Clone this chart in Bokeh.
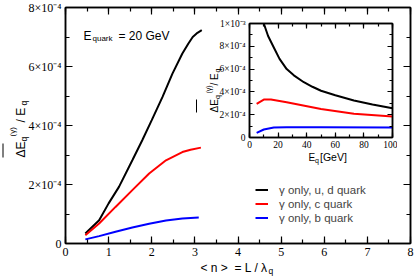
import math
from bokeh.plotting import figure
from bokeh.layouts import column
from bokeh.models import FixedTicker, LinearAxis, Label, Range1d, Arrow
from bokeh.embed import file_html
from bokeh.resources import INLINE

# ---------------- data ----------------
# main panel: photon energy loss fraction vs <n> = L / lambda_q, E_quark = 20 GeV
ud_n  = [0.46, 0.78, 1.00, 1.24, 1.55, 1.78, 2.00, 2.25, 2.48, 2.71, 2.85, 2.95, 3.06, 3.16]
ud_dE = [0.34e-4, 0.79e-4, 1.36e-4, 1.92e-4, 2.82e-4, 3.50e-4, 4.18e-4, 4.97e-4,
         5.76e-4, 6.44e-4, 6.78e-4, 7.00e-4, 7.14e-4, 7.23e-4]
c_n   = [0.46, 0.78, 1.16, 1.55, 1.94, 2.33, 2.71, 2.90, 3.14]
c_dE  = [0.28e-4, 0.68e-4, 1.24e-4, 1.81e-4, 2.37e-4, 2.82e-4, 3.10e-4, 3.18e-4, 3.25e-4]
b_n   = [0.46, 0.78, 1.16, 1.55, 1.94, 2.33, 2.71, 3.09]
b_dE  = [0.14e-4, 0.25e-4, 0.40e-4, 0.54e-4, 0.67e-4, 0.78e-4, 0.85e-4, 0.88e-4]

# inset: energy loss fraction vs E_q [GeV]
ud_E   = [8, 10, 13, 17, 21, 26, 31, 38, 44, 50, 60, 73, 86, 100]
ud_ins = [1.15e-3, 1.00e-3, 0.89e-3, 0.79e-3, 0.69e-3, 0.60e-3, 0.545e-3, 0.485e-3,
          0.445e-3, 0.41e-3, 0.37e-3, 0.325e-3, 0.29e-3, 0.257e-3]
c_E    = [5, 10, 15, 26, 50, 73, 100]
c_ins  = [0.295e-3, 0.333e-3, 0.333e-3, 0.31e-3, 0.25e-3, 0.208e-3, 0.184e-3]
b_E    = [5, 10, 17, 26, 50, 100]
b_ins  = [0.041e-3, 0.07e-3, 0.088e-3, 0.09e-3, 0.09e-3, 0.088e-3]

series_names = ["γ only, u, d quark", "γ only, c quark", "γ only, b quark"]

main_xticks = [0, 1, 2, 3, 4, 5, 6, 7, 8]
main_xminor = [0.5 * i for i in range(17)]
main_yticks = [0, 2e-4, 4e-4, 6e-4, 8e-4]
main_ylabels = ["0", "2×10⁻⁴", "4×10⁻⁴", "6×10⁻⁴", "8×10⁻⁴"]
main_yminor = [i * 1e-4 for i in range(9)]

ins_xticks = [0, 20, 40, 60, 80, 100]
ins_xminor = [10 * i for i in range(11)]
ins_yticks = [0, 2e-4, 4e-4, 6e-4, 8e-4, 1e-3]
ins_ylabels = ["0", "2×10⁻⁴", "4×10⁻⁴", "6×10⁻⁴", "8×10⁻⁴", "1×10⁻³"]
ins_yminor = [i * 1e-4 for i in range(11)]

SANS = "Liberation Sans"
SERIF = "Liberation Serif"
NBSP = "\u00a0"

# all figures of the column share left/right border sizes (bokeh aligns them)
BL, BR = 65, 5

# ---------------- main figure ----------------
W, H = 415, 277
FW = W - BL - BR   # frame width shared by the column
p = figure(width=W, height=H, x_range=Range1d(0, 8), y_range=Range1d(0, 8e-4),
           output_backend="svg", toolbar_location=None,
           min_border_left=BL, min_border_right=BR, min_border_top=7, min_border_bottom=34)
p.xgrid.visible = False
p.ygrid.visible = False
p.outline_line_color = "black"
p.outline_line_width = 1.5
p.background_fill_color = "white"
p.border_fill_color = "white"


def style_axis(ax, ticks, minor, labels=None, show_labels=True, size="12px", tick_in=7, minor_in=4):
    ax.ticker = FixedTicker(ticks=ticks, minor_ticks=minor)
    ax.axis_line_color = "black"
    ax.axis_line_width = 1.5
    ax.major_tick_in = tick_in
    ax.major_tick_out = 0
    ax.minor_tick_in = minor_in
    ax.minor_tick_out = 0
    ax.major_tick_line_width = 1.2
    ax.minor_tick_line_width = 1.2
    ax.major_tick_line_color = "black"
    ax.minor_tick_line_color = "black"
    if show_labels:
        ax.major_label_text_font = SERIF
        ax.major_label_text_font_size = size
        ax.major_label_text_color = "black"
        ax.major_label_standoff = 4
        if labels is not None:
            ax.major_label_overrides = {t: l for t, l in zip(ticks, labels)}
    else:
        # mirror axis: ticks only, no labels drawn
        ax.major_label_overrides = {t: "" for t in ticks}
        ax.major_label_text_color = None
        ax.major_label_text_alpha = 0
        ax.major_label_text_font_size = "1px"
        ax.major_label_standoff = 0


style_axis(p.xaxis[0], main_xticks, main_xminor)
style_axis(p.yaxis[0], main_yticks, main_yminor, main_ylabels)
ra = LinearAxis()
style_axis(ra, main_yticks, main_yminor, show_labels=False)
p.add_layout(ra, "right")
ta = LinearAxis()
style_axis(ta, main_xticks, main_xminor, show_labels=False)
p.add_layout(ta, "above")

p.line(ud_n, ud_dE, line_color="black", line_width=2, legend_label=series_names[0])
p.line(c_n, c_dE, line_color="red", line_width=2, legend_label=series_names[1])
p.line(b_n, b_dE, line_color="blue", line_width=2, legend_label=series_names[2])

lg = p.legend[0]
lg.location = (190, 19)
lg.border_line_color = None
lg.background_fill_alpha = 0
lg.padding = 0
lg.margin = 0
lg.spacing = 1
lg.glyph_width = 13
lg.glyph_height = 13
lg.label_height = 13
lg.label_standoff = 11
lg.label_text_font = SANS
lg.label_text_font_size = "11.5px"

# ---------------- inset figure ----------------
IFL, IFR, IFT, IFB = 249, 392, 23, 137          # inset frame on the page
IX = IFL - BL                                   # inset canvas left
IY = 15                                         # inset canvas top
IW = IFR + BR - IX
IH = 150
q = figure(width=IW, height=IH, x_range=Range1d(0, 100), y_range=Range1d(0, 1e-3),
           output_backend="svg", toolbar_location=None,
           min_border_left=BL, min_border_right=BR,
           min_border_top=IFT - IY, min_border_bottom=IY + IH - IFB)
q.xgrid.visible = False
q.ygrid.visible = False
q.outline_line_color = "black"
q.outline_line_width = 1.5
q.background_fill_color = "white"
q.border_fill_color = None
q.margin = (IY - H, 0, 0, IX)

style_axis(q.xaxis[0], ins_xticks, ins_xminor, size="9.5px", tick_in=5, minor_in=3)
style_axis(q.yaxis[0], ins_yticks, ins_yminor, ins_ylabels, size="9.5px", tick_in=5, minor_in=3)
q.xaxis[0].major_label_standoff = 3
q.yaxis[0].major_label_standoff = 4
ra2 = LinearAxis()
style_axis(ra2, ins_yticks, ins_yminor, show_labels=False, tick_in=5, minor_in=3)
q.add_layout(ra2, "right")
ta2 = LinearAxis()
style_axis(ta2, ins_xticks, ins_xminor, show_labels=False, tick_in=5, minor_in=3)
q.add_layout(ta2, "above")

q.line(ud_E, ud_ins, line_color="black", line_width=2)
q.line(c_E, c_ins, line_color="red", line_width=2)
q.line(b_E, b_ins, line_color="blue", line_width=2)


# ---------------- text layers (page-pixel coordinates, y downwards) ----------------
def text_layer(left, top_margin):
    # frame spans page x left .. left+FW and page y 0 .. H
    f = figure(width=W, height=H, x_range=Range1d(left, left + FW), y_range=Range1d(H, 0),
               x_axis_type=None, y_axis_type=None, title=None,
               output_backend="svg", toolbar_location=None,
               min_border_left=BL, min_border_right=BR, min_border_top=0, min_border_bottom=0)
    f.outline_line_color = None
    f.background_fill_color = None
    f.border_fill_color = None
    f.margin = (top_margin, 0, 0, left - BL)
    return f


tA = text_layer(0, -(IY + IH))   # page x 0..345
tB = text_layer(BL, -H)          # page x 65..410

R = math.pi / 2


def lab(f, px, py, text, size, angle=0.0, font=SANS):
    f.add_layout(Label(x=px, y=py, text=text, text_font=font, text_font_size=size,
                       text_align="left", text_baseline="alphabetic",
                       angle=angle, text_color="black"))


def bar(f, px, py0, py1):
    f.add_layout(Arrow(end=None, x_start=px, y_start=py0, x_end=px, y_end=py1,
                       line_color="black", line_width=1))


# main y axis label (rotated)
lab(tA, 20, 157, "ΔE", "12px", R)
lab(tA, 23, 141, "q", "8.5px", R)
lab(tA, 12, 136, "(γ)", "8px", R)
lab(tA, 20, 122, "/ E", "12px", R)
lab(tA, 23, 105, "q", "8.5px", R)
bar(tA, 2.5, 157, 143)
# main x axis label
lab(tA, 200, 267, "< n >" + NBSP + " = L / λ", "12px")
lab(tA, 268, 270, "q", "8.5px")
# E_quark annotation
lab(tA, 83, 35, "E", "12px")
lab(tA, 92, 38, "quark", "8px")
lab(tA, 118, 35, "= 20 GeV", "12px")
# inset y axis label
lab(tA, 214, 112, "ΔE", "10px", R)
lab(tA, 216.5, 98.5, "q", "7px", R)
lab(tA, 207.5, 93, "(γ)", "7px", R)
lab(tA, 214, 85, "/ E", "10px", R)
lab(tA, 216.5, 72, "q", "7px", R)
bar(tA, 196, 112, 99)
# inset x axis label
lab(tB, 308, 156.5, "E", "10px")
lab(tB, 314.5, 159.5, "q", "7px")
lab(tB, 319.5, 156.5, "[GeV]", "10.5px")

layout = column(p, q, tA, tB)
layout.spacing = 0

open("out.html", "w").write(file_html(layout, INLINE))
